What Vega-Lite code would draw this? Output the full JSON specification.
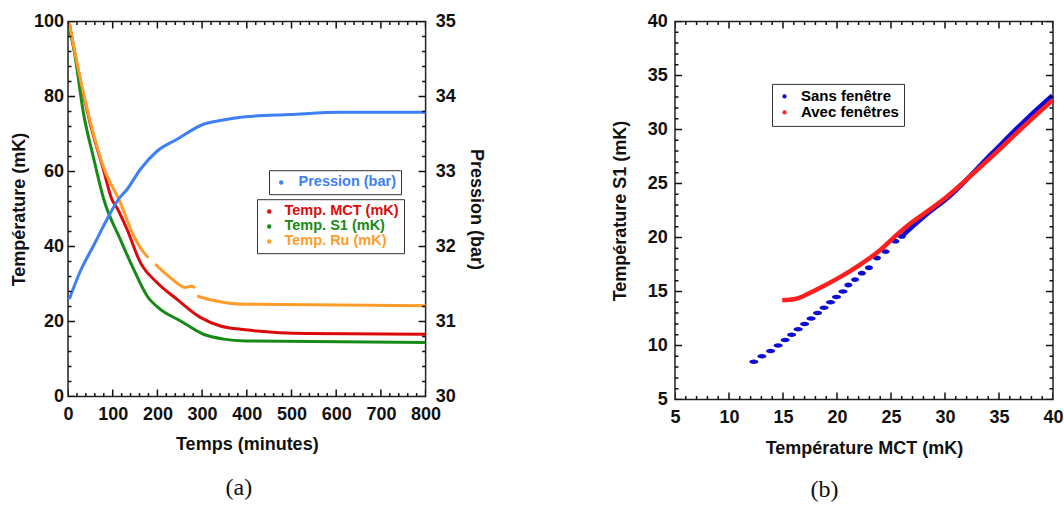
{
  "$schema": "https://vega.github.io/schema/vega-lite/v6.json",
  "padding": {"left": 9, "top": 11.5, "right": 0, "bottom": 0},
  "background": "white",
  "spacing": 124,
  "config": {
    "font": "Liberation Sans",
    "view": {"stroke": "#222", "strokeWidth": 1.5},
    "axis": {
      "domain": false, "ticks": false, "tickSize": 0, "grid": false,
      "labelFont": "Liberation Sans", "labelFontWeight": "bold", "labelFontSize": 18, "labelColor": "#111",
      "titleFont": "Liberation Sans", "titleFontWeight": "bold", "titleFontSize": 18, "titleColor": "#111",
      "labelOverlap": false, "labelFlush": false
    },
    "legend": {
      "labelFont": "Liberation Sans", "labelFontWeight": "bold", "strokeColor": "#333", "padding": 5,
      "symbolType": "circle", "rowPadding": 0, "labelOffset": 8
    }
  },
  "datasets": {
    "ticksA": [
      {"ax": "x", "v": 0, "k": "M"}, {"ax": "x", "v": 20, "k": "m"}, {"ax": "x", "v": 40, "k": "m"}, {"ax": "x", "v": 60, "k": "m"}, {"ax": "x", "v": 80, "k": "m"},
      {"ax": "x", "v": 100, "k": "M"}, {"ax": "x", "v": 120, "k": "m"}, {"ax": "x", "v": 140, "k": "m"}, {"ax": "x", "v": 160, "k": "m"}, {"ax": "x", "v": 180, "k": "m"},
      {"ax": "x", "v": 200, "k": "M"}, {"ax": "x", "v": 220, "k": "m"}, {"ax": "x", "v": 240, "k": "m"}, {"ax": "x", "v": 260, "k": "m"}, {"ax": "x", "v": 280, "k": "m"},
      {"ax": "x", "v": 300, "k": "M"}, {"ax": "x", "v": 320, "k": "m"}, {"ax": "x", "v": 340, "k": "m"}, {"ax": "x", "v": 360, "k": "m"}, {"ax": "x", "v": 380, "k": "m"},
      {"ax": "x", "v": 400, "k": "M"}, {"ax": "x", "v": 420, "k": "m"}, {"ax": "x", "v": 440, "k": "m"}, {"ax": "x", "v": 460, "k": "m"}, {"ax": "x", "v": 480, "k": "m"},
      {"ax": "x", "v": 500, "k": "M"}, {"ax": "x", "v": 520, "k": "m"}, {"ax": "x", "v": 540, "k": "m"}, {"ax": "x", "v": 560, "k": "m"}, {"ax": "x", "v": 580, "k": "m"},
      {"ax": "x", "v": 600, "k": "M"}, {"ax": "x", "v": 620, "k": "m"}, {"ax": "x", "v": 640, "k": "m"}, {"ax": "x", "v": 660, "k": "m"}, {"ax": "x", "v": 680, "k": "m"},
      {"ax": "x", "v": 700, "k": "M"}, {"ax": "x", "v": 720, "k": "m"}, {"ax": "x", "v": 740, "k": "m"}, {"ax": "x", "v": 760, "k": "m"}, {"ax": "x", "v": 780, "k": "m"},
      {"ax": "x", "v": 800, "k": "M"},
      {"ax": "y", "v": 0, "k": "M"}, {"ax": "y", "v": 4, "k": "m"}, {"ax": "y", "v": 8, "k": "m"}, {"ax": "y", "v": 12, "k": "m"}, {"ax": "y", "v": 16, "k": "m"},
      {"ax": "y", "v": 20, "k": "M"}, {"ax": "y", "v": 24, "k": "m"}, {"ax": "y", "v": 28, "k": "m"}, {"ax": "y", "v": 32, "k": "m"}, {"ax": "y", "v": 36, "k": "m"},
      {"ax": "y", "v": 40, "k": "M"}, {"ax": "y", "v": 44, "k": "m"}, {"ax": "y", "v": 48, "k": "m"}, {"ax": "y", "v": 52, "k": "m"}, {"ax": "y", "v": 56, "k": "m"},
      {"ax": "y", "v": 60, "k": "M"}, {"ax": "y", "v": 64, "k": "m"}, {"ax": "y", "v": 68, "k": "m"}, {"ax": "y", "v": 72, "k": "m"}, {"ax": "y", "v": 76, "k": "m"},
      {"ax": "y", "v": 80, "k": "M"}, {"ax": "y", "v": 84, "k": "m"}, {"ax": "y", "v": 88, "k": "m"}, {"ax": "y", "v": 92, "k": "m"}, {"ax": "y", "v": 96, "k": "m"},
      {"ax": "y", "v": 100, "k": "M"}
    ],
    "ticksB": [
      {"v": 5, "k": "M"}, {"v": 6, "k": "m"}, {"v": 7, "k": "m"}, {"v": 8, "k": "m"}, {"v": 9, "k": "m"},
      {"v": 10, "k": "M"}, {"v": 11, "k": "m"}, {"v": 12, "k": "m"}, {"v": 13, "k": "m"}, {"v": 14, "k": "m"},
      {"v": 15, "k": "M"}, {"v": 16, "k": "m"}, {"v": 17, "k": "m"}, {"v": 18, "k": "m"}, {"v": 19, "k": "m"},
      {"v": 20, "k": "M"}, {"v": 21, "k": "m"}, {"v": 22, "k": "m"}, {"v": 23, "k": "m"}, {"v": 24, "k": "m"},
      {"v": 25, "k": "M"}, {"v": 26, "k": "m"}, {"v": 27, "k": "m"}, {"v": 28, "k": "m"}, {"v": 29, "k": "m"},
      {"v": 30, "k": "M"}, {"v": 31, "k": "m"}, {"v": 32, "k": "m"}, {"v": 33, "k": "m"}, {"v": 34, "k": "m"},
      {"v": 35, "k": "M"}, {"v": 36, "k": "m"}, {"v": 37, "k": "m"}, {"v": 38, "k": "m"}, {"v": 39, "k": "m"},
      {"v": 40, "k": "M"}
    ]
  },
  "resolve": {"scale": {"color": "independent", "stroke": "independent"}, "legend": {"color": "independent", "stroke": "independent"}},
  "hconcat": [
    {
      "width": 357.6,
      "height": 375,
      "title": {"text": "(a)", "orient": "bottom", "anchor": "middle", "frame": "group", "font": "Liberation Serif", "fontSize": 24, "fontWeight": "normal", "color": "#111", "dx": -8, "offset": 23},
      "layer": [
        {
          "data": {"values": [
            {"t": 3, "v": 99.5, "s": "Temp. MCT (mK)"},
            {"t": 20, "v": 88.6, "s": "Temp. MCT (mK)"},
            {"t": 50, "v": 72.6, "s": "Temp. MCT (mK)"},
            {"t": 80, "v": 60.2, "s": "Temp. MCT (mK)"},
            {"t": 98, "v": 52.6, "s": "Temp. MCT (mK)"},
            {"t": 110, "v": 50.2, "s": "Temp. MCT (mK)"},
            {"t": 132, "v": 44.6, "s": "Temp. MCT (mK)"},
            {"t": 162, "v": 35.7, "s": "Temp. MCT (mK)"},
            {"t": 199, "v": 30.4, "s": "Temp. MCT (mK)"},
            {"t": 244, "v": 25.9, "s": "Temp. MCT (mK)"},
            {"t": 296, "v": 21.1, "s": "Temp. MCT (mK)"},
            {"t": 341, "v": 18.8, "s": "Temp. MCT (mK)"},
            {"t": 397, "v": 17.8, "s": "Temp. MCT (mK)"},
            {"t": 535, "v": 16.8, "s": "Temp. MCT (mK)"},
            {"t": 800, "v": 16.6, "s": "Temp. MCT (mK)"}
          ]},
          "mark": {"type": "line", "strokeWidth": 3, "interpolate": "monotone"},
          "encoding": {
            "x": {"field": "t", "type": "quantitative", "scale": {"domain": [0, 800], "nice": false},
              "axis": {"orient": "bottom", "title": "Temps (minutes)", "values": [0,100,200,300,400,500,600,700,800],
                "labelPadding": 8.7, "titlePadding": 12}},
            "y": {"field": "v", "type": "quantitative", "scale": {"domain": [0, 100], "nice": false},
              "axis": {"orient": "left", "title": "Température (mK)", "values": [0,20,40,60,80,100],
                "labelPadding": 4.4, "titlePadding": 5}},
            "color": {"field": "s", "type": "nominal",
              "scale": {"domain": ["Temp. MCT (mK)", "Temp. S1 (mK)", "Temp. Ru (mK)"], "range": ["#dc0b0b", "#168a16", "#ff9c2a"]},
              "legend": {"title": null, "orient": "none", "legendX": 189, "legendY": 177.7, "labelFontSize": 14.5,
                "symbolSize": 6, "symbolStrokeWidth": 2,
                "encode": {"labels": {"update": {"fill": {"signal": "datum.label === 'Temp. MCT (mK)' ? '#dc0b0b' : datum.label === 'Temp. S1 (mK)' ? '#168a16' : '#ff9c2a'"}}}}}}
          }
        },
        {
          "data": {"values": [
            {"t": 3, "v": 98, "s": "Temp. S1 (mK)"},
            {"t": 12.6, "v": 93, "s": "Temp. S1 (mK)"},
            {"t": 35, "v": 75.3, "s": "Temp. S1 (mK)"},
            {"t": 57, "v": 63.7, "s": "Temp. S1 (mK)"},
            {"t": 80, "v": 52.6, "s": "Temp. S1 (mK)"},
            {"t": 117, "v": 41.9, "s": "Temp. S1 (mK)"},
            {"t": 147, "v": 33.9, "s": "Temp. S1 (mK)"},
            {"t": 177, "v": 26.8, "s": "Temp. S1 (mK)"},
            {"t": 206, "v": 23.3, "s": "Temp. S1 (mK)"},
            {"t": 251, "v": 20.2, "s": "Temp. S1 (mK)"},
            {"t": 303, "v": 16.6, "s": "Temp. S1 (mK)"},
            {"t": 348, "v": 15.3, "s": "Temp. S1 (mK)"},
            {"t": 397, "v": 14.8, "s": "Temp. S1 (mK)"},
            {"t": 800, "v": 14.4, "s": "Temp. S1 (mK)"}
          ]},
          "mark": {"type": "line", "strokeWidth": 3, "interpolate": "monotone"},
          "encoding": {
            "x": {"field": "t", "type": "quantitative", "scale": {"domain": [0, 800], "nice": false}, "axis": null},
            "y": {"field": "v", "type": "quantitative", "scale": {"domain": [0, 100], "nice": false}, "axis": null},
            "color": {"field": "s", "type": "nominal",
              "scale": {"domain": ["Temp. MCT (mK)", "Temp. S1 (mK)", "Temp. Ru (mK)"], "range": ["#dc0b0b", "#168a16", "#ff9c2a"]},
              "legend": null}
          }
        },
        {
          "data": {"values": [
            {"t": 3, "v": 99.5, "s": "Temp. Ru (mK)", "g": "r1"},
            {"t": 20, "v": 89, "s": "Temp. Ru (mK)", "g": "r1"},
            {"t": 50, "v": 73.2, "s": "Temp. Ru (mK)", "g": "r1"},
            {"t": 80, "v": 61, "s": "Temp. Ru (mK)", "g": "r1"},
            {"t": 117, "v": 51.7, "s": "Temp. Ru (mK)", "g": "r1"},
            {"t": 147, "v": 42.8, "s": "Temp. Ru (mK)", "g": "r1"},
            {"t": 173, "v": 37.9, "s": "Temp. Ru (mK)", "g": "r1"},
            {"t": 180, "v": 37.0, "s": "Temp. Ru (mK)", "g": "r1"},
            {"t": 195, "v": 35.3, "s": "Temp. Ru (mK)", "g": "r2"},
            {"t": 229, "v": 31.7, "s": "Temp. Ru (mK)", "g": "r2"},
            {"t": 262, "v": 29.1, "s": "Temp. Ru (mK)", "g": "r2"},
            {"t": 277, "v": 29.4, "s": "Temp. Ru (mK)", "g": "r2"},
            {"t": 284, "v": 28.9, "s": "Temp. Ru (mK)", "g": "r2"},
            {"t": 289, "v": 26.8, "s": "Temp. Ru (mK)", "g": "r3"},
            {"t": 318, "v": 25.8, "s": "Temp. Ru (mK)", "g": "r3"},
            {"t": 397, "v": 24.6, "s": "Temp. Ru (mK)", "g": "r3"},
            {"t": 800, "v": 24.2, "s": "Temp. Ru (mK)", "g": "r3"}
          ]},
          "mark": {"type": "line", "strokeWidth": 3, "interpolate": "monotone"},
          "encoding": {
            "x": {"field": "t", "type": "quantitative", "scale": {"domain": [0, 800], "nice": false}, "axis": null},
            "y": {"field": "v", "type": "quantitative", "scale": {"domain": [0, 100], "nice": false},
              "axis": {"orient": "right", "title": "Pression (bar)", "values": [0,20,40,60,80,100],
                "labelExpr": "format(30 + datum.value / 20, 'd')", "labelPadding": 9.7, "titlePadding": 11}},
            "color": {"field": "s", "type": "nominal",
              "scale": {"domain": ["Temp. MCT (mK)", "Temp. S1 (mK)", "Temp. Ru (mK)"], "range": ["#dc0b0b", "#168a16", "#ff9c2a"]},
              "legend": null},
            "detail": {"field": "g", "type": "nominal"}
          }
        },
        {
          "data": {"values": [
            {"t": 3, "p": 31.3, "s": "Pression (bar)"},
            {"t": 27.5, "p": 31.67, "s": "Pression (bar)"},
            {"t": 57, "p": 32.01, "s": "Pression (bar)"},
            {"t": 87, "p": 32.36, "s": "Pression (bar)"},
            {"t": 113, "p": 32.63, "s": "Pression (bar)"},
            {"t": 132, "p": 32.76, "s": "Pression (bar)"},
            {"t": 162, "p": 33.03, "s": "Pression (bar)"},
            {"t": 199, "p": 33.27, "s": "Pression (bar)"},
            {"t": 244, "p": 33.43, "s": "Pression (bar)"},
            {"t": 303, "p": 33.63, "s": "Pression (bar)"},
            {"t": 341, "p": 33.68, "s": "Pression (bar)"},
            {"t": 397, "p": 33.73, "s": "Pression (bar)"},
            {"t": 497, "p": 33.76, "s": "Pression (bar)"},
            {"t": 609, "p": 33.79, "s": "Pression (bar)"},
            {"t": 800, "p": 33.79, "s": "Pression (bar)"}
          ]},
          "mark": {"type": "line", "strokeWidth": 3, "interpolate": "monotone"},
          "encoding": {
            "x": {"field": "t", "type": "quantitative", "scale": {"domain": [0, 800], "nice": false}, "axis": null},
            "y": {"field": "p", "type": "quantitative", "scale": {"domain": [30, 35], "nice": false}, "axis": null},
            "stroke": {"field": "s", "type": "nominal",
              "scale": {"domain": ["Pression (bar)"], "range": ["#3d7ff5"]},
              "legend": {"title": null, "orient": "none", "legendX": 201, "legendY": 148.7, "labelFontSize": 14.5,
                "symbolSize": 6, "symbolStrokeWidth": 2, "labelOffset": 10, "labelColor": "#3d7ff5"}}
          }
        },
        {
          "data": {"name": "ticksA"},
          "transform": [{"filter": "datum.ax === 'x'"}],
          "mark": {"type": "tick", "orient": "vertical", "thickness": 1.5, "clip": true, "opacity": 1, "color": "#111"},
          "encoding": {
            "x": {"field": "v", "type": "quantitative", "scale": {"domain": [0, 800], "nice": false}, "axis": null},
            "y": {"datum": 0, "type": "quantitative", "scale": {"domain": [0, 100], "nice": false}, "axis": null},
            "size": {"field": "k", "type": "ordinal", "scale": {"domain": ["M", "m"], "range": [14, 7]}, "legend": null}
          }
        },
        {
          "data": {"name": "ticksA"},
          "transform": [{"filter": "datum.ax === 'x'"}],
          "mark": {"type": "tick", "orient": "vertical", "thickness": 1.5, "clip": true, "opacity": 1, "color": "#111"},
          "encoding": {
            "x": {"field": "v", "type": "quantitative", "scale": {"domain": [0, 800], "nice": false}, "axis": null},
            "y": {"datum": 100, "type": "quantitative", "scale": {"domain": [0, 100], "nice": false}, "axis": null},
            "size": {"field": "k", "type": "ordinal", "scale": {"domain": ["M", "m"], "range": [14, 7]}, "legend": null}
          }
        },
        {
          "data": {"name": "ticksA"},
          "transform": [{"filter": "datum.ax === 'y'"}],
          "mark": {"type": "tick", "orient": "horizontal", "thickness": 1.5, "clip": true, "opacity": 1, "color": "#111"},
          "encoding": {
            "y": {"field": "v", "type": "quantitative", "scale": {"domain": [0, 100], "nice": false}, "axis": null},
            "x": {"datum": 0, "type": "quantitative", "scale": {"domain": [0, 800], "nice": false}, "axis": null},
            "size": {"field": "k", "type": "ordinal", "scale": {"domain": ["M", "m"], "range": [14, 7]}, "legend": null}
          }
        },
        {
          "data": {"name": "ticksA"},
          "transform": [{"filter": "datum.ax === 'y'"}],
          "mark": {"type": "tick", "orient": "horizontal", "thickness": 1.5, "clip": true, "opacity": 1, "color": "#111"},
          "encoding": {
            "y": {"field": "v", "type": "quantitative", "scale": {"domain": [0, 100], "nice": false}, "axis": null},
            "x": {"datum": 800, "type": "quantitative", "scale": {"domain": [0, 800], "nice": false}, "axis": null},
            "size": {"field": "k", "type": "ordinal", "scale": {"domain": ["M", "m"], "range": [14, 7]}, "legend": null}
          }
        }
      ],
      "resolve": {"scale": {"y": "independent"}, "axis": {"x": "independent", "y": "independent"}}
    },
    {
      "width": 378,
      "height": 378,
      "title": {"text": "(b)", "orient": "bottom", "anchor": "middle", "frame": "group", "font": "Liberation Serif", "fontSize": 24, "fontWeight": "normal", "color": "#111", "dx": -39.5, "offset": 21},
      "layer": [
        {
          "data": {"values": [
            {"x": 12.3, "y": 8.5, "s": "Sans fenêtre"},
            {"x": 13.05, "y": 9.0, "s": "Sans fenêtre"},
            {"x": 13.85, "y": 9.5, "s": "Sans fenêtre"},
            {"x": 14.55, "y": 10.0, "s": "Sans fenêtre"},
            {"x": 15.2, "y": 10.5, "s": "Sans fenêtre"},
            {"x": 15.8, "y": 11.0, "s": "Sans fenêtre"},
            {"x": 16.4, "y": 11.5, "s": "Sans fenêtre"},
            {"x": 17.0, "y": 12.0, "s": "Sans fenêtre"},
            {"x": 17.6, "y": 12.5, "s": "Sans fenêtre"},
            {"x": 18.2, "y": 13.0, "s": "Sans fenêtre"},
            {"x": 18.8, "y": 13.5, "s": "Sans fenêtre"},
            {"x": 19.4, "y": 14.0, "s": "Sans fenêtre"},
            {"x": 19.95, "y": 14.5, "s": "Sans fenêtre"},
            {"x": 20.55, "y": 15.0, "s": "Sans fenêtre"}
          ]},
          "mark": {"type": "point", "filled": true, "opacity": 1, "size": 81,
            "shape": "M-1,0A1,0.5 0 1,0 1,0A1,0.5 0 1,0 -1,0Z"},
          "encoding": {
            "x": {"field": "x", "type": "quantitative", "scale": {"domain": [5, 40], "nice": false},
              "axis": {"orient": "bottom", "title": "Température MCT (mK)", "values": [5,10,15,20,25,30,35,40],
                "labelPadding": 8.7, "titlePadding": 13}},
            "y": {"field": "y", "type": "quantitative", "scale": {"domain": [5, 40], "nice": false},
              "axis": {"orient": "left", "title": "Température S1 (mK)", "values": [5,10,15,20,25,30,35,40],
                "labelPadding": 7.7, "titlePadding": 18}},
            "color": {"field": "s", "type": "nominal",
              "scale": {"domain": ["Sans fenêtre", "Avec fenêtres"], "range": ["#0c0cd4", "#ff1f1f"]},
              "legend": {"title": null, "orient": "none", "legendX": 97, "legendY": 62.4, "labelFontSize": 15,
                "symbolSize": 8, "labelOffset": 9,
                "encode": {"labels": {"update": {"fill": {"signal": "datum.label === 'Sans fenêtre' ? '#0c0cd4' : '#ff1f1f'"}}}}}}
          }
        },
        {
          "data": {"values": [
            {"x": 21.05, "y": 15.6, "s": "Sans fenêtre"},
            {"x": 21.67, "y": 16.1, "s": "Sans fenêtre"},
            {"x": 22.3, "y": 16.7, "s": "Sans fenêtre"},
            {"x": 22.96, "y": 17.2, "s": "Sans fenêtre"},
            {"x": 23.7, "y": 18.1, "s": "Sans fenêtre"},
            {"x": 24.5, "y": 18.7, "s": "Sans fenêtre"},
            {"x": 25.4, "y": 19.66, "s": "Sans fenêtre"},
            {"x": 26.0, "y": 20.1, "s": "Sans fenêtre"}
          ]},
          "mark": {"type": "point", "filled": true, "opacity": 1, "size": 64,
            "shape": "M-1,0A1,0.6 0 1,0 1,0A1,0.6 0 1,0 -1,0Z"},
          "encoding": {
            "x": {"field": "x", "type": "quantitative", "scale": {"domain": [5, 40], "nice": false}, "axis": null},
            "y": {"field": "y", "type": "quantitative", "scale": {"domain": [5, 40], "nice": false}, "axis": null},
            "color": {"field": "s", "type": "nominal", "scale": {"domain": ["Sans fenêtre", "Avec fenêtres"], "range": ["#0c0cd4", "#ff1f1f"]}, "legend": null}
          }
        },
        {
          "data": {"values": [
            {"x": 26.0, "y": 20.1, "s": "Sans fenêtre"},
            {"x": 28.2, "y": 22.05, "s": "Sans fenêtre"},
            {"x": 30.4, "y": 23.8, "s": "Sans fenêtre"},
            {"x": 34.38, "y": 27.83, "s": "Sans fenêtre"},
            {"x": 37.47, "y": 30.9, "s": "Sans fenêtre"},
            {"x": 39.94, "y": 33.15, "s": "Sans fenêtre"}
          ]},
          "mark": {"type": "line", "strokeWidth": 4.5, "interpolate": "monotone"},
          "encoding": {
            "x": {"field": "x", "type": "quantitative", "scale": {"domain": [5, 40], "nice": false}, "axis": null},
            "y": {"field": "y", "type": "quantitative", "scale": {"domain": [5, 40], "nice": false}, "axis": null},
            "color": {"field": "s", "type": "nominal", "scale": {"domain": ["Sans fenêtre", "Avec fenêtres"], "range": ["#0c0cd4", "#ff1f1f"]}, "legend": null}
          }
        },
        {
          "data": {"values": [
            {"x": 14.93, "y": 14.19, "s": "Avec fenêtres"},
            {"x": 16.1, "y": 14.3, "s": "Avec fenêtres"},
            {"x": 17.35, "y": 14.8, "s": "Avec fenêtres"},
            {"x": 18.9, "y": 15.58, "s": "Avec fenêtres"},
            {"x": 20.4, "y": 16.4, "s": "Avec fenêtres"},
            {"x": 22.0, "y": 17.4, "s": "Avec fenêtres"},
            {"x": 24.2, "y": 19.0, "s": "Avec fenêtres"},
            {"x": 25.1, "y": 19.85, "s": "Avec fenêtres"},
            {"x": 26.67, "y": 21.2, "s": "Avec fenêtres"},
            {"x": 28.2, "y": 22.3, "s": "Avec fenêtres"},
            {"x": 30.2, "y": 23.8, "s": "Avec fenêtres"},
            {"x": 31.3, "y": 24.75, "s": "Avec fenêtres"},
            {"x": 34.38, "y": 27.53, "s": "Avec fenêtres"},
            {"x": 37.47, "y": 30.46, "s": "Avec fenêtres"},
            {"x": 39.94, "y": 32.7, "s": "Avec fenêtres"}
          ]},
          "mark": {"type": "line", "strokeWidth": 4.5, "interpolate": "monotone"},
          "encoding": {
            "x": {"field": "x", "type": "quantitative", "scale": {"domain": [5, 40], "nice": false}, "axis": null},
            "y": {"field": "y", "type": "quantitative", "scale": {"domain": [5, 40], "nice": false}, "axis": null},
            "color": {"field": "s", "type": "nominal", "scale": {"domain": ["Sans fenêtre", "Avec fenêtres"], "range": ["#0c0cd4", "#ff1f1f"]}, "legend": null}
          }
        },
        {
          "data": {"name": "ticksB"},
          "mark": {"type": "tick", "orient": "vertical", "thickness": 1.5, "clip": true, "opacity": 1, "color": "#111"},
          "encoding": {
            "x": {"field": "v", "type": "quantitative", "scale": {"domain": [5, 40], "nice": false}, "axis": null},
            "y": {"datum": 5, "type": "quantitative", "scale": {"domain": [5, 40], "nice": false}, "axis": null},
            "size": {"field": "k", "type": "ordinal", "scale": {"domain": ["M", "m"], "range": [14, 7]}, "legend": null}
          }
        },
        {
          "data": {"name": "ticksB"},
          "mark": {"type": "tick", "orient": "vertical", "thickness": 1.5, "clip": true, "opacity": 1, "color": "#111"},
          "encoding": {
            "x": {"field": "v", "type": "quantitative", "scale": {"domain": [5, 40], "nice": false}, "axis": null},
            "y": {"datum": 40, "type": "quantitative", "scale": {"domain": [5, 40], "nice": false}, "axis": null},
            "size": {"field": "k", "type": "ordinal", "scale": {"domain": ["M", "m"], "range": [14, 7]}, "legend": null}
          }
        },
        {
          "data": {"name": "ticksB"},
          "mark": {"type": "tick", "orient": "horizontal", "thickness": 1.5, "clip": true, "opacity": 1, "color": "#111"},
          "encoding": {
            "y": {"field": "v", "type": "quantitative", "scale": {"domain": [5, 40], "nice": false}, "axis": null},
            "x": {"datum": 5, "type": "quantitative", "scale": {"domain": [5, 40], "nice": false}, "axis": null},
            "size": {"field": "k", "type": "ordinal", "scale": {"domain": ["M", "m"], "range": [14, 7]}, "legend": null}
          }
        },
        {
          "data": {"name": "ticksB"},
          "mark": {"type": "tick", "orient": "horizontal", "thickness": 1.5, "clip": true, "opacity": 1, "color": "#111"},
          "encoding": {
            "y": {"field": "v", "type": "quantitative", "scale": {"domain": [5, 40], "nice": false}, "axis": null},
            "x": {"datum": 40, "type": "quantitative", "scale": {"domain": [5, 40], "nice": false}, "axis": null},
            "size": {"field": "k", "type": "ordinal", "scale": {"domain": ["M", "m"], "range": [14, 7]}, "legend": null}
          }
        }
      ],
      "resolve": {"axis": {"x": "independent", "y": "independent"}}
    }
  ]
}
